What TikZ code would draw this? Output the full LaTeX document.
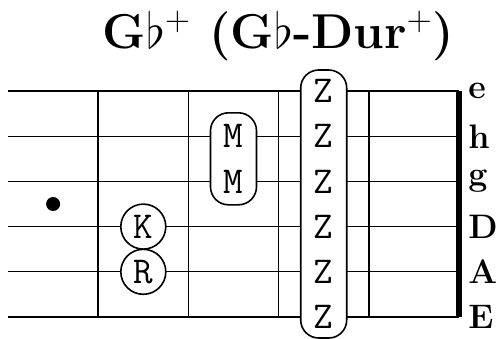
\documentclass[tikz,border=0pt]{standalone}
\usepackage{amssymb}
\usetikzlibrary{positioning}
\begin{document}
\begin{tikzpicture}[x=45.1pt, y=22.6pt,
		saite/.style={line width=0.6pt},
		bund/.style={line width=0.8pt},
		ton/.style={draw, circle, fill=white, line width=0.8pt, minimum size=22.5pt, inner sep=0pt, font=\fontsize{19}{21}\ttfamily},
		griff/.style={draw, rounded corners=9pt, fill=white, line width=0.8pt, minimum width=23pt, inner sep=0pt},
		buchstabe/.style={inner sep=0pt, font=\fontsize{19}{21}\ttfamily}]
		% Bildbereich
		\useasboundingbox (-0.0887,-0.4646) rectangle (5.4545,7.0133);
		% Titel
		\node[anchor=base, font=\fontsize{24.5}{28}\bfseries] (titel) at (3,5.95) {G$\flat^+$ (G$\flat$-Dur$^+$)};
		% Saiten und Bünde
		\foreach \s in {0,...,5} \draw[saite] (0,\s) -- (5,\s);
		\foreach \b in {1,...,4} \draw[bund] (\b,0) -- (\b,5);
		\draw[line width=3pt] (5,0) -- (5,5); %Sattel
		% Saitennamen
		\foreach \n [count=\s from 0] in {E,A,D,g,h,e}
			\node[anchor=west, inner sep=0pt, font=\fontsize{17}{20}\bfseries] (name\s) at (5.10,\s) {\n};
		% Markierung
		\fill (0.5,2.5) circle [radius=3.5pt];
		% Töne
		\node[ton] (k) at (1.5,2) {K};
		\node[ton] (r) at (1.5,1) {R};
		\node[griff, minimum height=46pt] (mbox) at (2.5,3.5) {};
		\foreach \s in {3,4} \node[buchstabe] (m\s) at (2.5,\s) {M};
		\node[griff, minimum height=134pt] (zbox) at (3.5,2.5) {};
		\foreach \s in {0,...,5} \node[buchstabe] (z\s) at (3.5,\s) {Z};
	\end{tikzpicture}
\end{document}
